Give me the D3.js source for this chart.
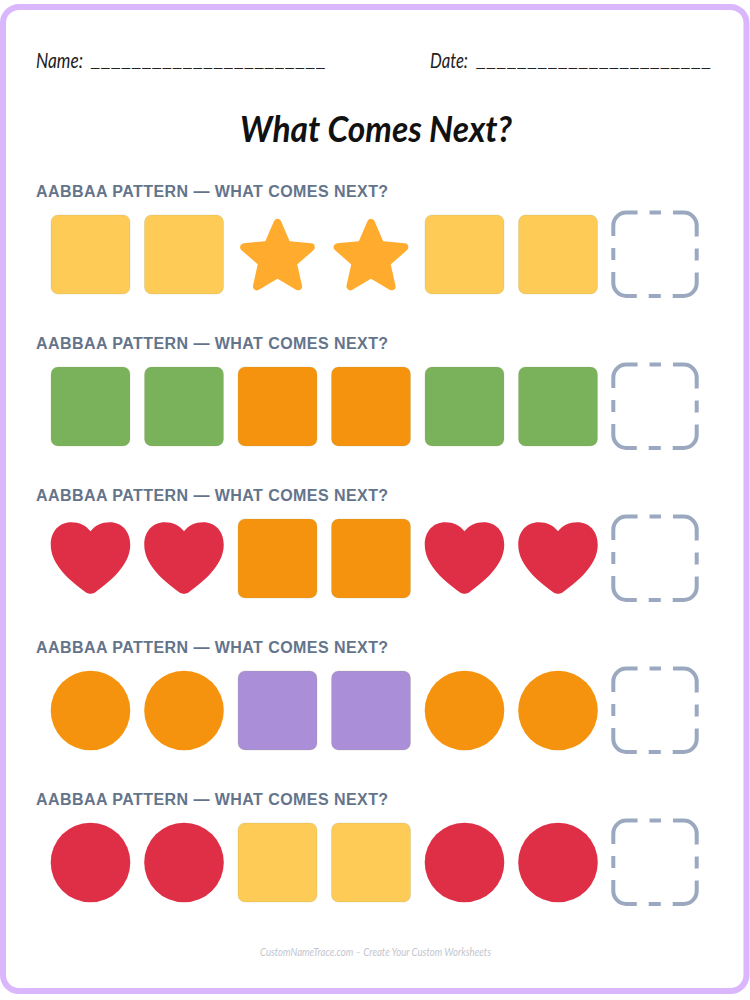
<!DOCTYPE html>
<html>
<head>
<meta charset="utf-8">
<script src="https://cdn.jsdelivr.net/npm/d3@7"></script>
<style>
    html, body { margin: 0; padding: 0; background: #fff; }
    svg { display: block; }
</style>
</head>
<body>
<svg id="chart" width="750" height="1000"></svg>
<script>
// the five rows of the worksheet, each one is AABBAA then an empty box
const rowLabels = [
    "AABBAA PATTERN — WHAT COMES NEXT?",
    "AABBAA PATTERN — WHAT COMES NEXT?",
    "AABBAA PATTERN — WHAT COMES NEXT?",
    "AABBAA PATTERN — WHAT COMES NEXT?",
    "AABBAA PATTERN — WHAT COMES NEXT?"
];
const patternOrder = ["A", "A", "B", "B", "A", "A"];
const shapeA = ["square", "square", "heart", "circle", "circle"];
const colorA = ["#fecb57", "#7ab15b", "#df2f46", "#f6930e", "#df2f46"];
const shapeB = ["star", "square", "square", "square", "square"];
const colorB = ["#ffab2e", "#f6930e", "#f6930e", "#aa8ed8", "#fecb57"];

const width = 750, height = 1000;
const slotStep = 93.5, rowStep = 152;
const shapeSize = 79;

const svg = d3.select("#chart");

// positions of the slots and of the rows
const xScale = d3.scaleLinear().domain([0, 6]).range([90.5, 90.5 + 6 * slotStep]);
const yScale = d3.scaleLinear().domain([0, 4]).range([254.5, 254.5 + 4 * rowStep]);

// page frame
svg.append("rect")
    .attr("x", 3)
    .attr("y", 7)
    .attr("width", 743.5)
    .attr("height", 984)
    .attr("rx", 16)
    .attr("fill", "white")
    .attr("stroke", "#dab6fd")
    .attr("stroke-width", 6);

// handwriting font is not available, a slanted Lato is the closest
const handFont = "Lato, 'Noto Sans', sans-serif";

function handText(str, x, y, size, len, fill, weight) {
    return svg.append("text")
        .attr("x", x)
        .attr("y", y)
        .attr("font-family", handFont)
        .attr("font-style", "italic")
        .attr("font-weight", weight || 400)
        .attr("font-size", size)
        .attr("fill", fill)
        .attr("textLength", len)
        .attr("lengthAdjust", "spacingAndGlyphs")
        .text(str);
}

// the write-on lines are underscores that stay apart
function blankLine(x, y) {
    svg.append("text")
        .attr("x", x)
        .attr("y", y)
        .attr("font-family", "'Liberation Sans', sans-serif")
        .attr("font-size", 15)
        .attr("letter-spacing", 1.9)
        .attr("fill", "#222")
        .text("_".repeat(23));
}

handText("Name:", 36, 67.5, 22, 47, "#222");
blankLine(91, 66);
handText("Date:", 430, 67.5, 22, 38, "#222");
blankLine(476.5, 66);
handText("What Comes Next?", 240, 142, 36, 272, "#111", 700);
handText("CustomNameTrace.com – Create Your Custom Worksheets", 260, 956, 11, 231, "#c3c6cd");

// heart as a custom d3 symbol type
const symbolHeart = {
    draw(context, size) {
        const s = Math.sqrt(size) / 2;
        context.moveTo(0, -0.67 * s);
        context.bezierCurveTo(0.12 * s, -0.83 * s, 0.28 * s, -0.9 * s, 0.48 * s, -0.9 * s);
        context.bezierCurveTo(0.8 * s, -0.9 * s, 1.0 * s, -0.66 * s, 1.0 * s, -0.34 * s);
        context.bezierCurveTo(1.0 * s, 0.12 * s, 0.62 * s, 0.5 * s, 0.12 * s, 0.86 * s);
        context.bezierCurveTo(0.05 * s, 0.91 * s, -0.05 * s, 0.91 * s, -0.12 * s, 0.86 * s);
        context.bezierCurveTo(-0.62 * s, 0.5 * s, -1.0 * s, 0.12 * s, -1.0 * s, -0.34 * s);
        context.bezierCurveTo(-1.0 * s, -0.66 * s, -0.8 * s, -0.9 * s, -0.48 * s, -0.9 * s);
        context.bezierCurveTo(-0.28 * s, -0.9 * s, -0.12 * s, -0.83 * s, 0, -0.67 * s);
        context.closePath();
    }
};

// fatter star than d3.symbolStar
const symbolFatStar = {
    draw(context, size) {
        const outer = Math.sqrt(size) / 2, inner = outer * 0.46;
        d3.range(10).forEach(k => {
            const r = k % 2 ? inner : outer;
            const a = k * Math.PI / 5;
            const px = r * Math.sin(a), py = -r * Math.cos(a);
            if (k === 0) context.moveTo(px, py);
            else context.lineTo(px, py);
        });
        context.closePath();
    }
};

function drawShape(g, shape, color) {
    if (shape === "square") {
        g.append("rect")
            .attr("x", -shapeSize / 2)
            .attr("y", -shapeSize / 2)
            .attr("width", shapeSize)
            .attr("height", shapeSize)
            .attr("rx", 7)
            .attr("fill", color)
            .attr("stroke", "#8f9a62")
            .attr("stroke-opacity", 0.35)
            .attr("stroke-width", 0.6);
    } else if (shape === "circle") {
        g.append("path")
            .attr("d", d3.symbol().type(d3.symbolCircle).size(Math.PI * 39.8 * 39.8)())
            .attr("fill", color);
    } else if (shape === "star") {
        g.append("path")
            .attr("d", d3.symbol().type(symbolFatStar).size(70 * 70)())
            .attr("transform", "translate(0,3.5)")
            .attr("fill", color)
            .attr("stroke", color)
            .attr("stroke-width", 8)
            .attr("stroke-linejoin", "round");
    } else {
        g.append("path")
            .attr("d", d3.symbol().type(symbolHeart).size(6320)())
            .attr("transform", "translate(0,-0.5)")
            .attr("fill", color);
    }
}

// empty answer box, dashes are long round the corners and short on the sides
function drawAnswerBox(g) {
    const half = 41.7, r = 13;
    const p = d3.path();
    p.moveTo(0, -half);
    p.lineTo(half - r, -half);
    p.arcTo(half, -half, half, -half + r, r);
    p.lineTo(half, half - r);
    p.arcTo(half, half, half - r, half, r);
    p.lineTo(-half + r, half);
    p.arcTo(-half, half, -half, half - r, r);
    p.lineTo(-half, -half + r);
    p.arcTo(-half, -half, -half + r, -half, r);
    p.closePath();
    const shortDash = 12, gap = 12;
    // one side with its corner, less the short dash and two gaps
    const longDash = (8 * half - 8 * r + 2 * Math.PI * r) / 4 - shortDash - 2 * gap;
    const side = [gap, longDash, gap, shortDash];
    g.append("path")
        .attr("d", p.toString())
        .attr("fill", "none")
        .attr("stroke", "#9aa9bf")
        .attr("stroke-width", 4)
        .attr("stroke-dasharray", [shortDash / 2, ...side, ...side, ...side, gap, longDash, gap, shortDash / 2].join(" "));
}

// one group per row
rowLabels.forEach((label, i) => {
    svg.append("text")
        .attr("x", 36)
        .attr("y", yScale(i) - 57.5)
        .attr("font-family", "'Liberation Sans', Arial, sans-serif")
        .attr("font-weight", 700)
        .attr("font-size", 16)
        .attr("letter-spacing", 0.44)
        .attr("fill", "#64748b")
        .text(label);

    patternOrder.forEach((letter, j) => {
        const g = svg.append("g")
            .attr("transform", `translate(${xScale(j)},${yScale(i)})`);
        if (letter === "A") drawShape(g, shapeA[i], colorA[i]);
        else drawShape(g, shapeB[i], colorB[i]);
    });

    const box = svg.append("g")
        .attr("transform", `translate(${xScale(6) + 3.5},${yScale(i) - 0.2})`);
    drawAnswerBox(box);
});
</script>
</body>
</html>
